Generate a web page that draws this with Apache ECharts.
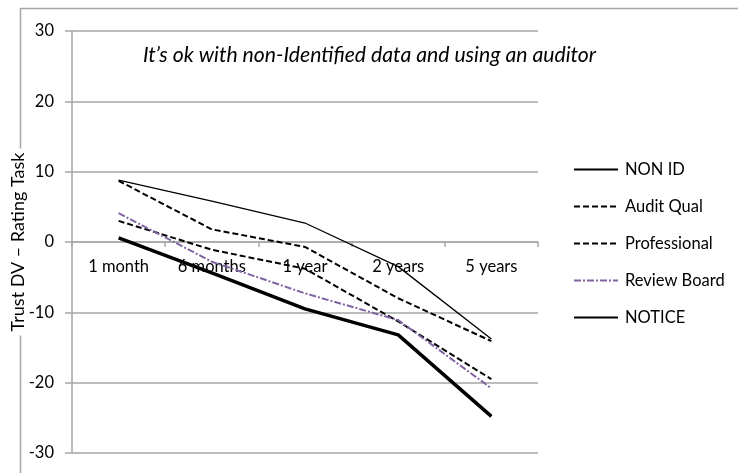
<!DOCTYPE html>
<html>
<head>
<meta charset="utf-8">
<script src="https://cdn.jsdelivr.net/npm/echarts@6/dist/echarts.min.js"></script>
<style>html,body{margin:0;padding:0;background:#fff;}#c{width:738px;height:473px;}</style>
</head>
<body>
<div id="c"></div>
<script>
var categories = ['1 month', '6 months', '1 year', '2 years', '5 years'];
var nonId = [8.8, 5.8, 2.7, -3.5, -13.8];
var auditQual = [8.7, 1.8, -0.7, -8.0, -14.1];
var professional = [3.0, -1.1, -3.8, -11.3, -19.5];
var reviewBoard = [4.1, -2.8, -7.3, -11.1, -20.8];
var notice = [0.6, -4.4, -9.5, -13.2, -24.8];
var yTicks = [-30, -20, -10, 0, 10, 20, 30];
var annotation = 'It\u2019s ok with non-Identified data and using an auditor';
var yName = 'Trust DV \u2013 Rating Task';

var FONT = 'Lato';
var GRAY = '#a6a6a6';
var chart = echarts.init(document.getElementById('c'), null, {renderer: 'canvas'});

function mk(name, data, color, width, type) {
  return {
    name: name, type: 'line', data: data, symbol: 'none', silent: true,
    lineStyle: {color: color, width: width, type: type},
    itemStyle: {color: color},
    z: 3
  };
}

var plotTop = 31, plotBottom = 20;
var plotH = 473 - plotTop - plotBottom;

chart.setOption({
  animation: false,
  backgroundColor: '#fff',
  textStyle: {fontFamily: FONT},
  grid: {left: 72, right: 200, top: plotTop, bottom: plotBottom, containLabel: false, outerBoundsMode: 'none'},
  graphic: [
    {type: 'rect', left: 18, top: 6, shape: {width: 900, height: 700}, style: {fill: 'none', stroke: GRAY, lineWidth: 1.5}, z: 0, silent: true},
    {type: 'text', left: 143, top: 45, style: {text: annotation, fontFamily: FONT, fontStyle: 'italic', fontSize: 21.2, fill: '#000'}, z: 5}
  ],
  legend: {
    orient: 'vertical', left: 573, top: 161, padding: 0,
    itemWidth: 44, itemHeight: 12, itemGap: 20,
    itemStyle: {opacity: 0},
    textStyle: {fontFamily: FONT, fontSize: 16.5, color: '#000', padding: [0, 0, 0, 2]},
    data: ['NON ID', 'Audit Qual', 'Professional', 'Review Board', 'NOTICE']
  },
  xAxis: {
    type: 'category', data: categories, boundaryGap: true,
    offset: -plotH / 2,
    axisLine: {onZero: false, lineStyle: {color: GRAY, width: 1.5}},
    axisTick: {show: true, length: 5, lineStyle: {color: GRAY, width: 1.5}},
    axisLabel: {margin: 16, fontFamily: FONT, fontSize: 16.5, color: '#000'},
    splitLine: {show: false}
  },
  yAxis: {
    type: 'value', min: -30, max: 30, interval: 10,
    name: yName, nameLocation: 'middle', nameGap: 45, nameRotate: 90, nameMoveOverlap: false,
    nameTextStyle: {fontFamily: FONT, fontSize: 18, color: '#000', backgroundColor: '#fff', padding: [0, 4, 0, 4]},
    axisLine: {show: true, lineStyle: {color: GRAY, width: 1.5}},
    axisTick: {show: true, length: 7, lineStyle: {color: GRAY, width: 1.5}},
    axisLabel: {margin: 18, fontFamily: FONT, fontSize: 16.5, color: '#000',
      formatter: function (v) { return yTicks.indexOf(v) >= 0 ? String(v) : ''; }},
    splitLine: {show: true, lineStyle: {color: GRAY, width: 1.5}}
  },
  series: [
    mk('NON ID', nonId, '#000', 1.3, 'solid'),
    mk('Audit Qual', auditQual, '#000', 2, [6, 3]),
    mk('Professional', professional, '#000', 2, [6, 3]),
    mk('Review Board', reviewBoard, '#8064a2', 2, [7, 2, 2, 2]),
    mk('NOTICE', notice, '#000', 3.5, 'solid')
  ]
});
</script>
</body>
</html>
